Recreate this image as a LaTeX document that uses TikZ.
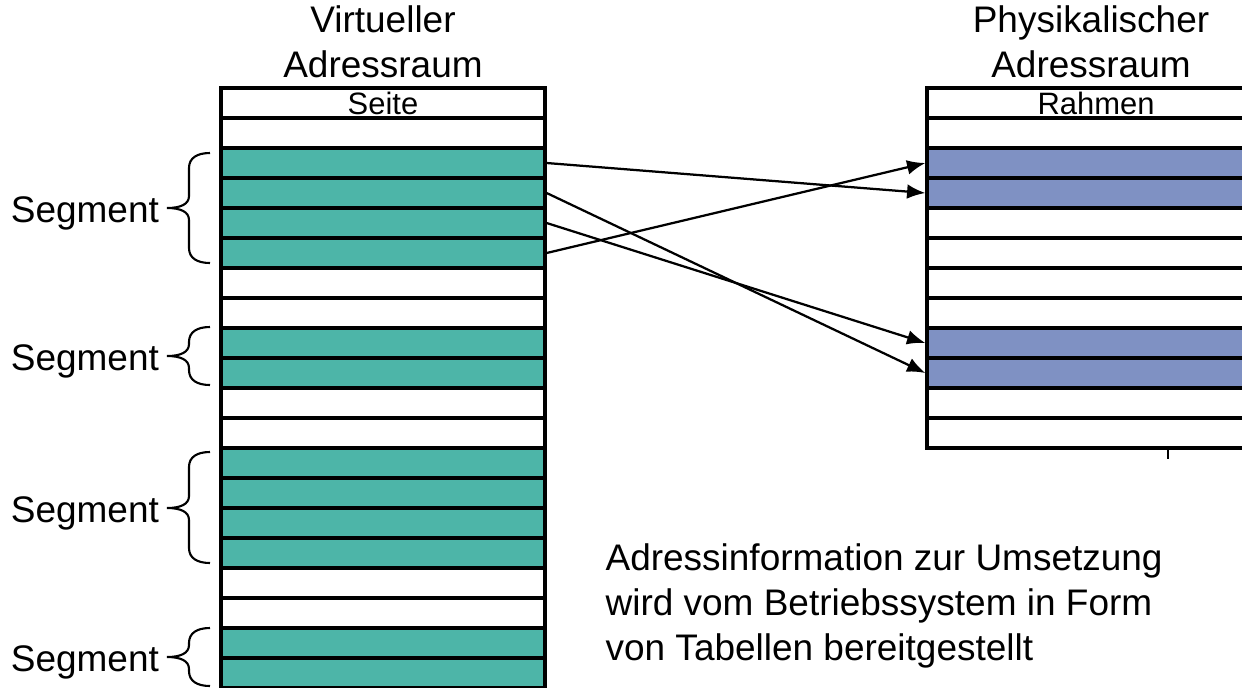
\documentclass[tikz,border=0pt]{standalone}
\usepackage{fontspec}
\setmainfont{Liberation Sans}
\usetikzlibrary{arrows.meta}
\definecolor{segcol}{RGB}{77,181,168}
\definecolor{rahmencol}{RGB}{127,145,195}

\begin{document}
\begin{tikzpicture}[x=0.025cm, y=-0.025cm, line width=2.3pt,
    seitenrow/.style={rectangle, draw, minimum width=8.1cm, minimum height=0.75cm, inner sep=0pt, font=\fontsize{22}{24}\selectfont},
    rahmenrow/.style={seitenrow, minimum width=8.45cm},
    bigtext/.style={font=\fontsize{26.3}{32}\selectfont, inner sep=0pt},
    map/.style={-{Latex[length=13pt, width=10.5pt]}, line width=1.6pt}]
    \useasboundingbox (0,0) rectangle (1242,687);
    \clip (0,0) rectangle (1242,687);

    % virtueller Adressraum
    \node[seitenrow] (v0) at (383,103) {Seite};
    \foreach \i/\c in {1/white,2/segcol,3/segcol,4/segcol,5/segcol,6/white,7/white,8/segcol,9/segcol,10/white,11/white,12/segcol,13/segcol,14/segcol,15/segcol,16/white,17/white,18/segcol,19/segcol}
      \node[seitenrow, fill=\c] (v\i) at (383,{103+30*\i}) {};

    % physikalischer Adressraum
    \node[rahmenrow] (p0) at (1096,103) {Rahmen};
    \foreach \i/\c in {1/white,2/rahmencol,3/rahmencol,4/white,5/white,6/white,7/white,8/rahmencol,9/rahmencol,10/white,11/white}
      \node[rahmenrow, fill=\c] (p\i) at (1096,{103+30*\i}) {};
    \draw[line width=1.6pt] ([xshift=1.8cm]p11.south) -- ++(0,9);

    \node[bigtext, align=center, anchor=south] (vtitle) at (383,79) {Virtueller\\Adressraum};
    \node[bigtext, align=center, anchor=south] (ptitle) at (1091,79) {Physikalischer\\Adressraum};

    \draw[map] (v2.east) -- (p3.west);
    \draw[map] (v3.east) -- (p9.west);
    \draw[map] (v4.east) -- (p8.west);
    \draw[map] (v5.east) -- (p2.west);

    % Klammern
    \foreach \t/\b/\m/\n in {153/263/208/1, 327/385/356/2, 452/563/508/3, 628/686/657/4}
      \draw[line width=1.5pt] (210,\t) .. controls (197,\t) and (189,{\t+5}) .. (189,{\t+15})
        -- (189,{\m-12}) .. controls (189,{\m-4}) and (181,\m) .. (167,\m)
        node[bigtext, anchor=east, xshift=-5pt, yshift=-4pt] (seg\n) {Segment}
        .. controls (181,\m) and (189,{\m+4}) .. (189,{\m+12})
        -- (189,{\b-15}) .. controls (189,{\b-5}) and (197,\b) .. (210,\b);

    \node[bigtext, align=left, anchor=north west] (info) at (604,542) {Adressinformation zur Umsetzung\\wird vom Betriebssystem in Form\\von Tabellen bereitgestellt};
  \end{tikzpicture}
\end{document}
